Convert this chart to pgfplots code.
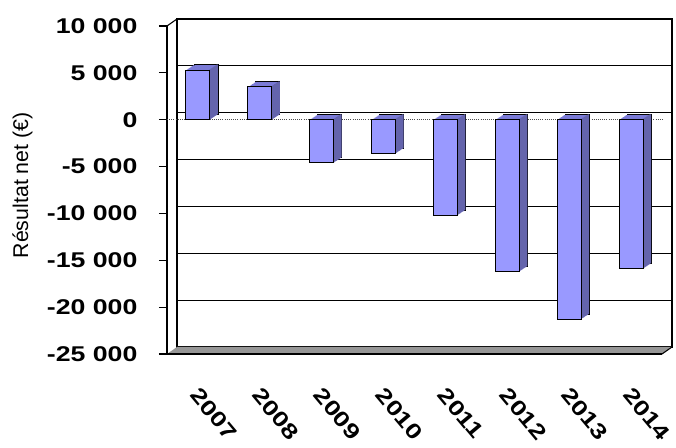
\documentclass[border=0pt]{standalone}
\usepackage{fontspec}
\setmainfont{Liberation Sans}
\newfontfamily\tickfont[FakeStretch=1.25]{Liberation Sans}
\usepackage{pgfplots}
\usepackage{pgfplotstable}
\pgfplotsset{compat=1.18}
\definecolor{barfront}{RGB}{153,153,255}
\definecolor{bartop}{RGB}{122,122,214}
\definecolor{barside}{RGB}{100,100,172}
\definecolor{floorgray}{RGB}{150,150,150}

% Résultat net par année (€)
\pgfplotstableread{
x val
1 5300
2 3500
3 -4600
4 -3600
5 -10200
6 -16200
7 -21300
8 -15900
}\resultats

\begin{document}
\begin{tikzpicture}
\useasboundingbox (0,0) rectangle (507pt,336pt);
\pgfplotsset{common/.style={
    scale only axis, width=371.25pt, height=246pt,
    xmin=0.5, xmax=8.5, ymin=-25000, ymax=10000,
    ybar, bar width=18pt, scaled y ticks=false,
    ytick={-25000,-20000,...,10000},
}}
% back wall with the grid
\begin{axis}[common, name=back, at={(132.75pt,75.75pt)}, anchor=south west,
    xtick=\empty, yticklabels={}, major tick length=0pt,
    ymajorgrids, grid style={black, line width=0.9pt},
    axis line style={black, line width=0.9pt},
]
\end{axis}
% floor and left wall
\fill[floorgray] (125.25pt,70.5pt) -- (496.5pt,70.5pt) -- (504pt,75.75pt) -- (132.75pt,75.75pt) -- cycle;
\draw[black, line width=0.8pt] (125.25pt,316.5pt) -- (132.75pt,321.75pt);
\draw[black, line width=0.8pt] (496.5pt,70.5pt) -- (504pt,75.75pt);
% front: bars (with depth), ticks and labels
\begin{axis}[common, name=front, at={(125.25pt,70.5pt)}, anchor=south west,
    axis lines*=left,
    axis line style={black, line width=1.4pt},
    tick align=outside,
    ytick style={black, line width=0.8pt}, major tick length=6pt,
    yticklabels={{-25 000},{-20 000},{-15 000},{-10 000},{-5 000},0,{5 000},{10 000}},
    xtick={1,...,8},
    xticklabels={2007,2008,2009,2010,2011,2012,2013,2014},
    xtick style={draw=none},
    extra y ticks={0}, extra y tick labels={},
    extra y tick style={grid=major, major tick length=0pt,
        major grid style={black!70, line width=0.6pt, densely dotted}},
    ticklabel style={font=\tickfont\bfseries\fontsize{16}{16}\selectfont},
    yticklabel style={anchor=east, inner sep=0pt, xshift=-16pt},
    xticklabel style={inner sep=0pt, xshift=2pt, yshift=-18pt, rotate=-50, anchor=north west},
    ylabel={Résultat net (€)},
    ylabel style={at={(axis description cs:-0.292,0.514)}, anchor=center,
        font=\fontsize{16}{16}\selectfont},
]
% back face of the bars
\addplot[fill=bartop, draw=black, line width=0.6pt, bar shift=0pt, xshift=6pt, yshift=4pt]
    table[x=x,y=val]{\resultats};
% top faces
\pgfplotsinvokeforeach{7,6,...,1}{
\addplot[fill=bartop, draw=none, bar shift=0pt, xshift=#1*0.75pt, yshift=#1*0.5pt]
    table[x=x,y=val]{\resultats};
}
% side faces
\pgfplotsinvokeforeach{8,7,...,0}{
\addplot[fill=barside, draw=none, bar width=1.2pt, bar shift=8.4pt, xshift=#1*0.75pt, yshift=#1*0.5pt]
    table[x=x,y=val]{\resultats};
}
% front faces
\addplot[fill=barfront, draw=black, line width=0.8pt, bar shift=0pt]
    table[x=x,y=val]{\resultats};
\end{axis}
\end{tikzpicture}
\end{document}
